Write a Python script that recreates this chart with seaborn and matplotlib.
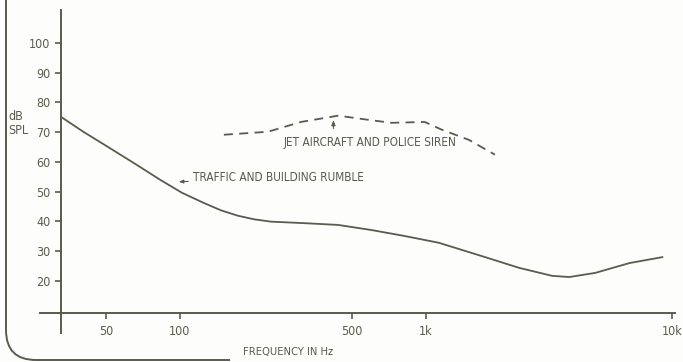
import matplotlib
matplotlib.use("Agg")
import matplotlib.pyplot as plt
import matplotlib.font_manager as fm
from matplotlib.path import Path
from matplotlib.patches import PathPatch
import pandas as pd
import seaborn as sns

# traffic and building rumble (solid)
traffic_hz = [33, 40.5, 51, 64.7, 83.4, 102, 125, 147, 172, 200, 235, 320, 440,
              600, 818, 1130, 1740, 2390, 3260, 3830, 4890, 6730, 9170]
traffic_db = [75, 70.1, 65, 59.7, 53.9, 49.6, 46.2, 43.7, 41.9, 40.7, 39.9, 39.4,
              38.8, 37.1, 35.1, 32.8, 28, 24.4, 21.7, 21.3, 22.7, 26, 28]

# jet aircraft and police siren (dashed)
jet_hz = [151, 228, 311, 440, 584, 725, 989, 1160, 1494, 1909]
jet_db = [69.1, 70.1, 73.4, 75.5, 74.1, 73.1, 73.4, 70.8, 67.4, 62.4]

x_ticks = [50, 100, 500, 1000, 10000]
x_labels = ["50", "100", "500", "1k", "10k"]
y_ticks = [20, 30, 40, 50, 60, 70, 80, 90, 100]

INK = "#5a5a4e"

sns.set_style("white")
names = {f.name for f in fm.fontManager.ttflist}
fam = "Liberation Sans Narrow" if "Liberation Sans Narrow" in names else "DejaVu Sans"
plt.rcParams["font.family"] = [fam, "DejaVu Sans"]
plt.rcParams["font.stretch"] = "condensed"

fig = plt.figure(figsize=(6.83, 3.62), dpi=100, facecolor="#fdfdfb")
ax = fig.add_axes([40 / 683, 1 - 333 / 362, 635 / 683, 323 / 362])
ax.set_facecolor("#fdfdfb")

df_t = pd.DataFrame({"hz": traffic_hz, "db": traffic_db})
df_j = pd.DataFrame({"hz": jet_hz, "db": jet_db})
sns.lineplot(data=df_t, x="hz", y="db", ax=ax, color=INK, lw=1.3)
sns.lineplot(data=df_j, x="hz", y="db", ax=ax, color=INK, lw=1.3,
             linestyle=(0, (5, 3.5)))

ax.set_xscale("log")
ax.set_xlim(27, 10300)
ax.set_ylim(2.5, 111)

for s in ["top", "right"]:
    ax.spines[s].set_visible(False)
ax.spines["left"].set_position(("data", 33))
ax.spines["bottom"].set_position(("data", 9.3))
for s in ["left", "bottom"]:
    ax.spines[s].set_color(INK)
    ax.spines[s].set_linewidth(1.4)

ax.set_xticks(x_ticks)
ax.set_xticklabels(x_labels)
ax.xaxis.set_minor_locator(matplotlib.ticker.NullLocator())
ax.set_yticks(y_ticks)
ax.tick_params(axis="both", direction="out", length=4, width=1.2, color=INK,
               labelcolor=INK, labelsize=9, pad=4)
ax.tick_params(axis="y", left=True)
ax.tick_params(axis="x", bottom=True, pad=5)
ax.set_xlabel("")
ax.set_ylabel("")

fig.text(8 / 683, 1 - 124 / 362, "dB\nSPL", color=INK, fontsize=9,
         ha="left", va="center", linespacing=1.1)
fig.text(288 / 683, 1 - 352 / 362, "FREQUENCY IN Hz", color=INK, fontsize=8,
         ha="center", va="center")

ax.annotate("TRAFFIC AND BUILDING RUMBLE", xy=(99, 53.3), xytext=(113, 54.6),
            color=INK, fontsize=8.5, ha="left", va="center",
            arrowprops=dict(arrowstyle="-|>,head_length=0.3,head_width=0.12",
                            color=INK, lw=0.8, shrinkA=1, shrinkB=0))
ax.annotate("JET AIRCRAFT AND POLICE SIREN", xy=(421, 74.0), xytext=(265, 66.4),
            color=INK, fontsize=8.5, ha="left", va="center")
ax.annotate("", xy=(421, 74.0), xytext=(421, 71.2),
            arrowprops=dict(arrowstyle="-|>,head_length=0.3,head_width=0.12",
                            color=INK, lw=0.8, shrinkA=0, shrinkB=0))

# scanned page frame (left and bottom edge with rounded corner)
W, H = 683, 362
pts = [(6, 0), (6, 330), (6, 360), (36, 360), (230, 360)]
codes = [Path.MOVETO, Path.LINETO, Path.CURVE3, Path.CURVE3, Path.LINETO]
frame = Path([(x / W, 1 - y / H) for x, y in pts], codes)
fig.add_artist(PathPatch(frame, transform=fig.transFigure, fill=False,
                         edgecolor=INK, lw=1.4))

fig.savefig("out.png", dpi=100, facecolor=fig.get_facecolor())
